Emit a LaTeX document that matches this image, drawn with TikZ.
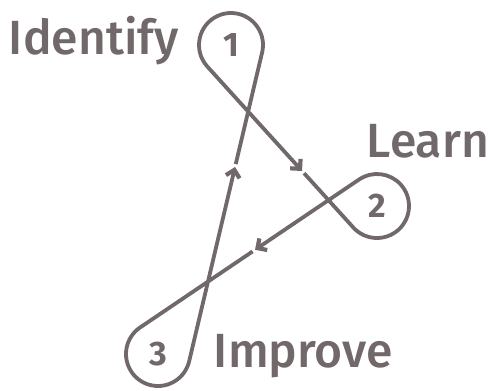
\documentclass[tikz,border=0pt]{standalone}
\usepackage{fontspec}
\setmainfont{Fira Sans}
\newfontfamily\stagefont{Fira Sans Medium}
\usetikzlibrary{arrows.meta,calc}
\definecolor{loopgray}{HTML}{71686A}

\begin{document}
\begin{tikzpicture}[x = 1pt, y = 1pt, color = loopgray, line width = 3.8pt,
	flow/.style = {-{Straight Barb[length = 7pt, width = 14pt, line width = 4.2pt]}},
	stage/.style = {font = \fontsize{48}{48}\stagefont, anchor = base west, inner sep = 0pt},
	number/.style = {font = \fontsize{34}{34}\selectfont\bfseries, inner sep = 0pt}]
			
			\useasboundingbox (0, 0) rectangle (488, 391);
			
			\coordinate (c1) at (231, 346);
\coordinate (c2) at (377, 185);
\coordinate (c3) at (158, 37);
\coordinate (t1A) at (207.30, 324.50);
\coordinate (t2A) at (353.30, 163.50);
\coordinate (t2B) at (359.08, 211.51);
\coordinate (t3B) at (140.08, 63.51);
\coordinate (t3C) at (189.14, 29.64);
\coordinate (t1C) at (262.14, 338.64);
\coordinate (tipA) at ($(t1A)!0.649!(t2A)$);
\coordinate (tipB) at ($(t2B)!0.475!(t3B)$);
\coordinate (tipC) at ($(t3C)!0.629!(t1C)$);
\coordinate (restA) at ($(tipA)!3pt!(t2A)$);
\coordinate (restB) at ($(tipB)!3pt!(t3B)$);
\coordinate (restC) at ($(tipC)!3pt!(t1C)$);

			\draw[flow] (restA) -- (t2A) arc[start angle = 222.20, end angle = 484.05, radius = 32] -- (tipB);
			\draw[flow] (restB) -- (t3B) arc[start angle = 124.05, end angle = 346.71, radius = 32] -- (tipC);
			\draw[flow] (restC) -- (t1C) arc[start angle = -13.29, end angle = 222.20, radius = 32] -- (tipA);
			
			\node[number] (n1) at (c1) {1};
\node[number] (n2) at (c2) {2};
\node[number] (n3) at (c3) {3};
\node[stage] (identify) at (7, 336) {Identify};
\node[stage] (learn) at (365, 233) {Learn};
\node[stage] (improve) at (212, 23) {Improve};

			
		\end{tikzpicture}
\end{document}
